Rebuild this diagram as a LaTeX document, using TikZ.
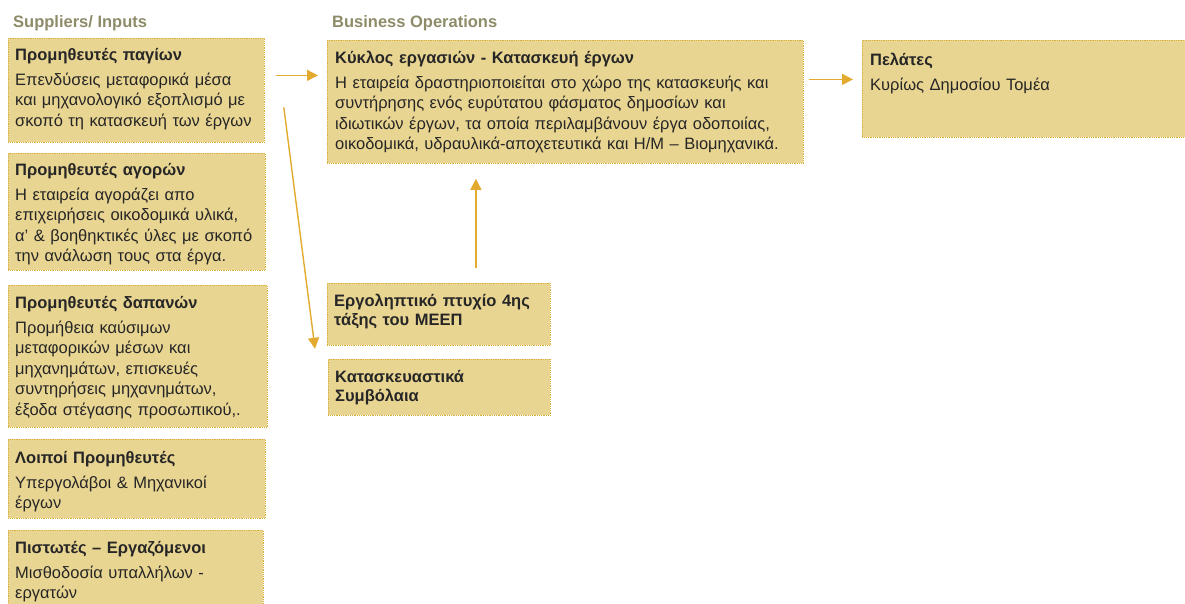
\documentclass[tikz,border=0pt]{standalone}
\usepackage{fontspec}
\setmainfont{Liberation Sans}
\usetikzlibrary{arrows.meta}
\definecolor{boxfill}{HTML}{E9D592}
\definecolor{boxline}{HTML}{D9AE3A}
\definecolor{arrowgold}{HTML}{E2AA2E}
\definecolor{headgray}{HTML}{8E8B68}
\definecolor{textdark}{HTML}{262626}
\tikzset{%
  box/.style  = {draw=boxline, densely dotted, line width=0.8pt, fill=boxfill,
    anchor=north west, inner sep=0pt},
  txt/.style  = {anchor=base west, align=left, inner sep=0pt, text width=300pt,
    text=textdark, font=\fontsize{16.5}{20.5}\selectfont},
  bold/.style = {txt, font=\bfseries\fontsize{16.5}{19}\selectfont},
  head/.style = {anchor=base west, inner sep=0pt, text=headgray,
    font=\bfseries\fontsize{16.5}{20}\selectfont},
  arr/.style  = {draw=arrowgold, line width=1.4pt, -{Triangle[length=11pt, width=11pt]}}
}
\newcommand{\boxtitle}[1]{{\bfseries\fontsize{16.5}{20.5}\selectfont #1}\\[4.5pt]}

\begin{document}
\begin{tikzpicture}[x=1pt, y=-1pt]
    \clip (0,0) rectangle (1185,603);

    %headers
    \node[head] (supp-head) at (13,27) {Suppliers/ Inputs};
    \node[head] (ops-head) at (332,27) {Business Operations};

    %pagia
    \node[box, minimum width=256pt, minimum height=104pt] (pagia) at (8,38) {};
    \node[txt] (pagia-txt) at (15,60) {\boxtitle{Προμηθευτές παγίων}Επενδύσεις μεταφορικά μέσα\\και μηχανολογικό εξοπλισμό με\\σκοπό τη κατασκευή των έργων};

    %agores
    \node[box, minimum width=257pt, minimum height=117pt] (agores) at (8,153) {};
    \node[txt] (agores-txt) at (15,175) {\boxtitle{Προμηθευτές αγορών}Η εταιρεία αγοράζει απο\\επιχειρήσεις οικοδομικά υλικά,\\α' \& βοηθηκτικές ύλες με σκοπό\\την ανάλωση  τους στα έργα.};

    %dapanes
    \node[box, minimum width=259pt, minimum height=142pt] (dapanes) at (8,285) {};
    \node[txt] (dapanes-txt) at (15,308) {\boxtitle{Προμηθευτές δαπανών}Προμήθεια καύσιμων\\μεταφορικών μέσων και\\μηχανημάτων, επισκευές\\συντηρήσεις μηχανημάτων,\\έξοδα στέγασης προσωπικού,.};

    %loipoi
    \node[box, minimum width=257pt, minimum height=79pt] (loipoi) at (8,439) {};
    \node[txt] (loipoi-txt) at (15,463) {\boxtitle{Λοιποί Προμηθευτές}Υπεργολάβοι  \& Μηχανικοί\\έργων};

    %pistotes
    \node[box, minimum width=255pt, minimum height=90pt] (pistotes) at (8,530) {};
    \node[txt] (pistotes-txt) at (15,553) {\boxtitle{Πιστωτές – Εργαζόμενοι}Μισθοδοσία υπαλλήλων  -\\εργατών};

    %kyklos
    \node[box, minimum width=476pt, minimum height=123pt] (kyklos) at (327,40) {};
    \node[txt, text width=470pt] (kyklos-txt) at (335,63) {\boxtitle{Κύκλος εργασιών - Κατασκευή έργων}Η εταιρεία δραστηριοποιείται στο χώρο της κατασκευής και\\συντήρησης ενός ευρύτατου φάσματος δημοσίων και\\ιδιωτικών έργων,  τα οποία περιλαμβάνουν έργα οδοποιίας,\\οικοδομικά, υδραυλικά-αποχετευτικά και Η/Μ – Βιομηχανικά.};

    %pelates
    \node[box, minimum width=340pt, minimum height=97pt] (pelates) at (862,40) {};
    \node[txt] (pelates-txt) at (870,65) {\boxtitle{Πελάτες}Κυρίως Δημοσίου Τομέα};

    %ptyxio
    \node[box, minimum width=223pt, minimum height=62pt] (ptyxio) at (327,283) {};
    \node[bold] (ptyxio-txt) at (334,306) {Εργοληπτικό πτυχίο 4ης\\τάξης του ΜΕΕΠ};

    %symvolaia
    \node[box, minimum width=222pt, minimum height=56pt] (symvolaia) at (328,359) {};
    \node[bold] (symvolaia-txt) at (335,382) {Κατασκευαστικά\\Συμβόλαια};

    %arrows
    \draw[arr, shorten <=11pt, shorten >=9pt] ([yshift=15pt]pagia.east) -- ([yshift=15pt]pagia.east -| kyklos.west);
    \draw[arr] ([shift={(19,17)}]pagia.east) -- ([shift={(-12,3)}]ptyxio.south west);
    \draw[arr, shorten <=15pt, shorten >=15pt] ([xshift=37pt]ptyxio.north) -- ([xshift=37pt]ptyxio.north |- kyklos.south);
    \draw[arr, shorten <=5pt, shorten >=9pt] ([yshift=22.5pt]kyklos.east) -- ([yshift=22.5pt]kyklos.east -| pelates.west);
\end{tikzpicture}
\end{document}
